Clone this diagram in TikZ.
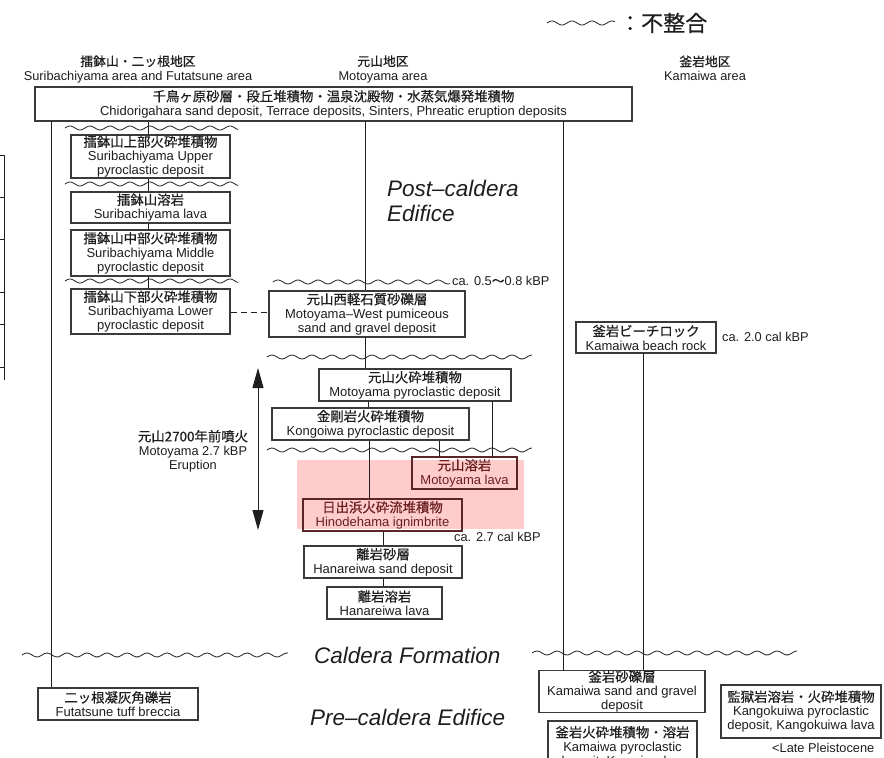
\documentclass[tikz,border=0pt]{standalone}
\usepackage{fontspec}
\setmainfont{Liberation Sans}
\newfontfamily\jpfont[FakeBold=0.5]{Noto Sans CJK JP}
\usetikzlibrary{arrows.meta}

\definecolor{ink}{HTML}{1E1E1E}
\definecolor{frame}{HTML}{3A3A3A}
\definecolor{lavabg}{HTML}{FFCCCC}
\definecolor{lavaink}{HTML}{6A1E1E}

% Japanese line inside a unit label
\newcommand\J[1]{{\jpfont\fontsize{13.4}{14}\selectfont #1}}
% unconformity: wavy line from x=#1 to x=#2 at height #3
\newcommand\uncon[3]{\draw[wavy] plot[domain=#1:#2, samples=120, smooth] (\x, {#3 - 2*sin(18*(\x-#1))});}

\tikzset{
  x=1pt, y=-1pt,
  unit box/.style={draw=frame, line width=1.1pt, fill=white, text=ink, inner sep=0pt,
    align=center, font=\fontsize{13}{14}\selectfont},
  lava box/.style={unit box, fill=none, draw=lavaink!70!frame, text=lavaink},
  link/.style={draw=ink, line width=0.9pt},
  wavy/.style={draw=ink, line width=0.8pt},
  note/.style={text=ink, inner sep=0pt, font=\fontsize{12.8}{14}\selectfont},
  header/.style={note, align=center},
  stage/.style={text=ink, inner sep=0pt, anchor=west, align=left,
    font=\fontsize{22.5}{25}\selectfont\itshape},
}

\begin{document}
\begin{tikzpicture}
\path[use as bounding box] (0,0) rectangle (884,758);
\clip (0,0) rectangle (884,758);

% legend
\uncon{547}{615}{23}
\node[note, anchor=west] (legend) at (619,23) {\jpfont\fontsize{22}{24}\selectfont ：不整合};

% column headers
\node[header] (hdrS) at (138,69) {{\jpfont\fontsize{12.8}{14}\selectfont 擂鉢山・二ッ根地区}\\Suribachiyama area and Futatsune area};
\node[header] (hdrM) at (383,69) {{\jpfont\fontsize{12.8}{14}\selectfont 元山地区}\\Motoyama area};
\node[header] (hdrK) at (705,68) {{\jpfont\fontsize{12.8}{14}\selectfont 釜岩地区}\\Kamaiwa area};

% stage labels
\node[stage] (post) at (387,201) {Post–caldera\\Edifice};
\node[stage] (cald) at (314,655) {Caldera Formation};
\node[stage] (pre) at (310,717) {Pre–caldera Edifice};

% edge of the neighbouring column table
\draw[link] (4,155) -- (4,380);
\foreach \yy in {155,197,239,292,324,367} \draw[link] (0,\yy) -- (4,\yy);

% Motoyama 2.7 kBP eruption interval
\fill[lavabg] (297,460) rectangle (524,529);

% units
\node[unit box, minimum width=597pt, minimum height=34pt] (top) at (333.5,104)
  {\J{千鳥ヶ原砂層・段丘堆積物・温泉沈殿物・水蒸気爆発堆積物}\\Chidorigahara sand deposit, Terrace deposits, Sinters, Phreatic eruption deposits};

\node[unit box, minimum width=159pt, minimum height=43pt] (supper) at (150.5,156.5)
  {\J{擂鉢山上部火砕堆積物}\\Suribachiyama Upper\\pyroclastic deposit};
\node[unit box, minimum width=159pt, minimum height=31pt] (slava) at (150.5,207.5)
  {\J{擂鉢山溶岩}\\Suribachiyama lava};
\node[unit box, minimum width=159pt, minimum height=46pt] (smid) at (150.5,253)
  {\J{擂鉢山中部火砕堆積物}\\Suribachiyama Middle\\pyroclastic deposit};
\node[unit box, minimum width=159pt, minimum height=45pt] (slow) at (150.5,311.5)
  {\J{擂鉢山下部火砕堆積物}\\Suribachiyama Lower\\pyroclastic deposit};

\node[unit box, minimum width=196pt, minimum height=46pt] (mwest) at (367,314)
  {\J{元山西軽石質砂礫層}\\Motoyama–West pumiceous\\sand and gravel deposit};
\node[unit box, minimum width=192pt, minimum height=32pt] (mpyro) at (415,385)
  {\J{元山火砕堆積物}\\Motoyama pyroclastic deposit};
\node[unit box, minimum width=197pt, minimum height=32pt] (kongo) at (370.5,424)
  {\J{金剛岩火砕堆積物}\\Kongoiwa pyroclastic deposit};
\node[lava box, minimum width=105pt, minimum height=32pt] (mlava) at (464.5,473)
  {\J{元山溶岩}\\Motoyama lava};
\node[lava box, minimum width=159pt, minimum height=32pt] (hino) at (382.5,515)
  {\J{日出浜火砕流堆積物}\\Hinodehama ignimbrite};
\node[unit box, minimum width=158pt, minimum height=32pt] (hsand) at (383,562)
  {\J{離岩砂層}\\Hanareiwa sand deposit};
\node[unit box, minimum width=115pt, minimum height=32pt] (hlava) at (384.5,603)
  {\J{離岩溶岩}\\Hanareiwa lava};

\node[unit box, minimum width=140pt, minimum height=31pt] (beach) at (646,337.5)
  {\J{釜岩ビーチロック}\\Kamaiwa beach rock};
\node[unit box, minimum width=160pt, minimum height=32pt] (futa) at (118,704)
  {\J{二ッ根凝灰角礫岩}\\Futatsune tuff breccia};
\node[unit box, minimum width=166pt, minimum height=41pt] (ksand) at (622,691.5)
  {\J{釜岩砂礫層}\\Kamaiwa sand and gravel\\deposit};
\node[unit box, minimum width=149pt, minimum height=52pt] (kpyro) at (622.5,747)
  {\J{釜岩火砕堆積物・溶岩}\\Kamaiwa pyroclastic\\deposit, Kamaiwa lava};
\node[unit box, minimum width=160pt, minimum height=53pt] (kango) at (801,711.5)
  {\J{監獄岩溶岩・火砕堆積物}\\Kangokuiwa pyroclastic\\deposit, Kangokuiwa lava};

% age notes
\node[note, anchor=west] (ageA) at (452,281) {ca. 0.5{\jpfont 〜}0.8 kBP};
\node[note, anchor=west] (ageB) at (722,337) {ca. 2.0 cal kBP};
\node[note, anchor=west] (ageC) at (454,537) {ca. 2.7 cal kBP};
\node[note, anchor=west] (ageD) at (772,748) {<Late Pleistocene};

% unconformities
\uncon{65}{238}{128}
\uncon{65}{238}{184}
\uncon{65}{238}{281}
\uncon{273}{450}{282}
\uncon{267}{532}{357}
\uncon{267}{532}{450}
\uncon{22}{288}{655}
\uncon{532}{797}{653}

% column positions of the connectors
\coordinate (xF) at (51,0);
\coordinate (xS) at (148,0);
\coordinate (xM) at (365,0);
\coordinate (xMk) at (368,0);
\coordinate (xMl) at (492,0);
\coordinate (xKh) at (369,0);
\coordinate (xKl) at (439,0);
\coordinate (xH) at (383,0);
\coordinate (xK) at (563,0);
\coordinate (xB) at (643,0);

% connectors
\draw[link] (top.south -| xF) -- (futa.north -| xF);
\draw[link] (top.south -| xS) -- (supper.north -| xS);
\draw[link] (supper.south -| xS) -- (slava.north -| xS);
\draw[link] (slava.south -| xS) -- (smid.north -| xS);
\draw[link] (smid.south -| xS) -- (slow.north -| xS);
\draw[link, dashed, dash pattern=on 6pt off 4pt] (slow.east |- 0,312) -- (mwest.west |- 0,312);
\draw[link] (top.south -| xM) -- (mwest.north -| xM);
\draw[link] (mwest.south -| xM) -- (mpyro.north -| xM);
\draw[link] (mpyro.south -| xMk) -- (kongo.north -| xMk);
\draw[link] (mpyro.south -| xMl) -- (mlava.north -| xMl);
\draw[link] (kongo.south -| xKh) -- (hino.north -| xKh);
\draw[link] (kongo.south -| xKl) -- (mlava.north -| xKl);
\draw[link] (hino.south -| xH) -- (hsand.north -| xH);
\draw[link] (hsand.south -| xH) -- (hlava.north -| xH);
\draw[link] (top.south -| xK) -- (ksand.north -| xK);
\draw[link] (beach.south -| xB) -- (ksand.north -| xB);

% eruption span
\coordinate (spanTop) at (258,368);
\coordinate (spanBot) at (258,530);
\draw[link, {Triangle[length=20pt,width=11pt]}-{Triangle[length=20pt,width=11pt]}] (spanTop) -- (spanBot);
\node[header] (erupt) at (193,451)
  {\J{元山2700年前噴火}\\Motoyama 2.7 kBP\\Eruption};
\end{tikzpicture}
\end{document}
